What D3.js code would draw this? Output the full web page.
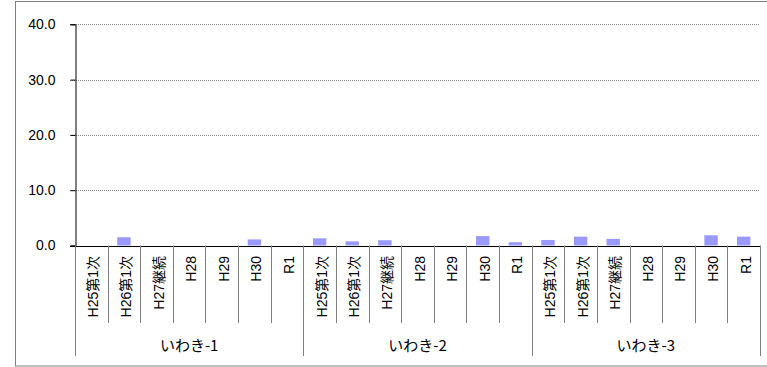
<!DOCTYPE html>
<html>
<head>
<meta charset="utf-8">
<script src="https://cdn.jsdelivr.net/npm/d3@7"></script>
<style>
  body { margin: 0; background: #fff; }
  svg { display: block; font-family: "Liberation Sans", Arial, "Noto Sans CJK JP", sans-serif; }
</style>
</head>
<body>
<svg id="chart" width="767" height="367"></svg>
<script>
const groups = ["いわき-1", "いわき-2", "いわき-3"];
const periods = ["H25第1次", "H26第1次", "H27継続", "H28", "H29", "H30", "R1"];
const values1 = [null, 1.5, null, null, null, 1.1, null];
const values2 = [1.3, 0.75, 0.95, null, null, 1.7, 0.6];
const values3 = [1.0, 1.6, 1.2, null, null, 1.85, 1.6];
const yTicks = [0, 10, 20, 30, 40];

const series = [values1, values2, values3];
const data = [];
groups.forEach((g, gi) => periods.forEach((p, pi) => data.push({ key: g + "|" + p, group: g, period: p, value: series[gi][pi] })));

const svg = d3.select("#chart");
const mLeft = 75, mRight = 760, mTop = 24.3, mBottom = 245.5;

svg.append("rect").attr("x", 15.5).attr("y", 1.5).attr("width", 770).attr("height", 364.5)
  .attr("fill", "none").attr("stroke", "#808080").attr("stroke-width", 1);

const x = d3.scaleBand().domain(data.map(d => d.key)).range([mLeft, mRight]).paddingInner(0).paddingOuter(0);
const y = d3.scaleLinear().domain([0, 40]).range([mBottom, mTop]);

// gridlines
svg.append("g").selectAll("line").data(yTicks.filter(t => t > 0)).join("line")
  .attr("x1", 70).attr("x2", mRight)
  .attr("y1", d => Math.round(y(d)) + 0.5).attr("y2", d => Math.round(y(d)) + 0.5)
  .attr("stroke", "#8a8a8a").attr("stroke-width", 1).attr("stroke-dasharray", "1,1");

// y axis
const yAxis = d3.axisLeft(y).tickValues(yTicks).tickFormat(d3.format(".1f")).tickSize(5).tickPadding(15);
const ya = svg.append("g").attr("transform", `translate(${mLeft + 0.5},0)`).call(yAxis);
ya.select(".domain").attr("stroke", "#000");
ya.selectAll(".tick line").attr("stroke", "#000");
ya.selectAll(".tick text").attr("font-size", 14).attr("fill", "#000").attr("font-family", "'Liberation Sans', Arial, sans-serif");

// bars
const bw = 13.4;
svg.append("g").selectAll("rect").data(data.filter(d => d.value != null)).join("rect")
  .attr("x", d => x(d.key) + x.bandwidth() / 2 - bw / 2)
  .attr("width", bw)
  .attr("y", d => y(d.value))
  .attr("height", d => y(0) - y(d.value))
  .attr("fill", "#9999ff");

// baseline
svg.append("line").attr("x1", 70).attr("x2", mRight).attr("y1", Math.round(mBottom) + 0.5).attr("y2", Math.round(mBottom) + 0.5)
  .attr("stroke", "#000");

// category separators
const catBounds = data.map(d => x(d.key)).filter((v, i) => i % periods.length !== 0);
svg.append("g").selectAll("line").data(catBounds).join("line")
  .attr("x1", d => Math.round(d) + 0.5).attr("x2", d => Math.round(d) + 0.5)
  .attr("y1", mBottom).attr("y2", 323)
  .attr("stroke", "#808080");

// group separators
const groupBounds = groups.map((g, i) => x(g + "|" + periods[0])).concat([mRight]);
svg.append("g").selectAll("line").data(groupBounds).join("line")
  .attr("x1", d => Math.round(d) + 0.5).attr("x2", d => Math.round(d) + 0.5)
  .attr("y1", mBottom).attr("y2", 356)
  .attr("stroke", "#808080");

// category labels
svg.append("g").selectAll("text").data(data).join("text")
  .attr("transform", d => `translate(${x(d.key) + x.bandwidth() / 2 + 7},256) rotate(-90)`)
  .attr("text-anchor", "end")
  .attr("font-size", 14)
  .attr("fill", "#000")
  .attr("font-family", "'Liberation Sans', Arial, 'Noto Sans CJK JP', sans-serif")
  .text(d => d.period);

// group labels
svg.append("g").selectAll("text").data(groups).join("text")
  .attr("x", g => {
    const a = x(g + "|" + periods[0]);
    const b = x(g + "|" + periods[periods.length - 1]) + x.bandwidth();
    return (a + b) / 2;
  })
  .attr("y", 351)
  .attr("text-anchor", "middle")
  .attr("font-size", 15)
  .attr("fill", "#000")
  .attr("font-family", "'Noto Sans CJK JP', sans-serif")
  .text(g => g);
</script>
</body>
</html>
